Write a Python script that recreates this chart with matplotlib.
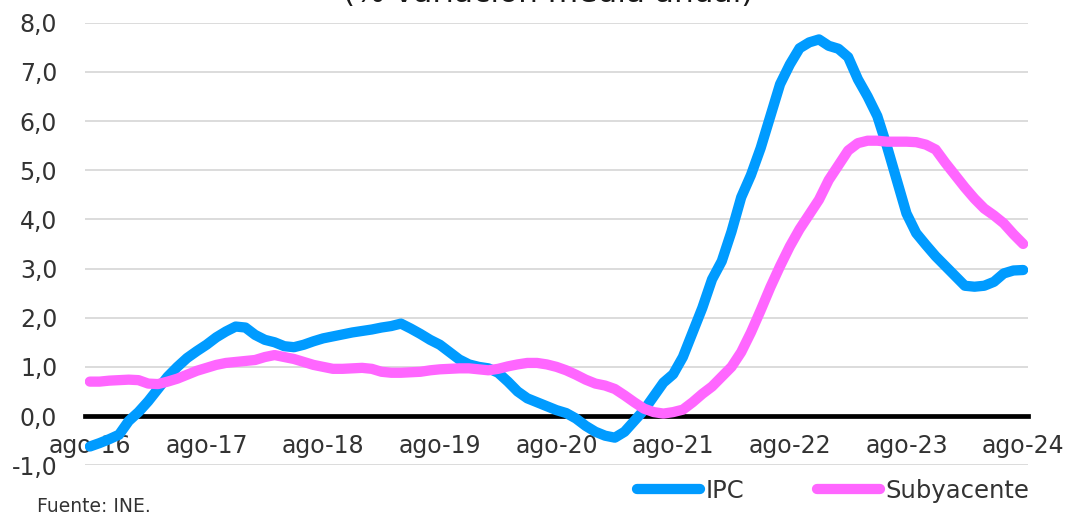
import matplotlib
matplotlib.use("Agg")
import matplotlib.pyplot as plt
import numpy as np

# Monthly data from ago-16 to ago-24 (97 months)
n_months = 97

ipc = [
    -0.62, -0.55, -0.47, -0.38, -0.10, 0.08, 0.30, 0.55, 0.80, 1.00,
    1.18, 1.32, 1.45, 1.60, 1.72, 1.82, 1.80, 1.65, 1.55, 1.50,
    1.42, 1.40, 1.45, 1.52, 1.58, 1.62, 1.66, 1.70, 1.73, 1.76,
    1.80, 1.83, 1.88, 1.78, 1.67, 1.55, 1.45, 1.30, 1.15, 1.05,
    1.00, 0.97, 0.88, 0.70, 0.50, 0.36, 0.28, 0.20, 0.12, 0.06,
    -0.05, -0.20, -0.32, -0.40, -0.44, -0.32, -0.10, 0.12, 0.40, 0.68,
    0.85, 1.20, 1.70, 2.20, 2.78, 3.15, 3.75, 4.45, 4.90, 5.45,
    6.10, 6.75, 7.15, 7.48, 7.60, 7.66, 7.53, 7.47, 7.30, 6.85,
    6.50, 6.10, 5.48, 4.80, 4.12, 3.72, 3.48, 3.25, 3.05, 2.85,
    2.65, 2.63, 2.65, 2.73, 2.90, 2.96, 2.97,
]

subyacente = [
    0.70, 0.70, 0.72, 0.73, 0.74, 0.73, 0.66, 0.65, 0.70, 0.76,
    0.84, 0.92, 0.98, 1.04, 1.08, 1.10, 1.12, 1.14, 1.20, 1.24,
    1.20, 1.16, 1.10, 1.04, 1.00, 0.96, 0.96, 0.97, 0.98, 0.96,
    0.90, 0.88, 0.88, 0.89, 0.90, 0.93, 0.95, 0.96, 0.97, 0.97,
    0.95, 0.93, 0.96, 1.01, 1.05, 1.08, 1.08, 1.05, 1.00, 0.93,
    0.84, 0.74, 0.66, 0.62, 0.55, 0.42, 0.28, 0.15, 0.08, 0.05,
    0.08, 0.13, 0.28, 0.45, 0.60, 0.80, 1.00, 1.30, 1.70, 2.15,
    2.62, 3.05, 3.45, 3.80, 4.10, 4.40, 4.80, 5.10, 5.40, 5.55,
    5.60, 5.60, 5.58, 5.58, 5.58, 5.57, 5.52, 5.42, 5.15, 4.90,
    4.65, 4.42, 4.22, 4.08, 3.92, 3.70, 3.50,
]

xtick_labels = ["ago-16", "ago-17", "ago-18", "ago-19", "ago-20",
                "ago-21", "ago-22", "ago-23", "ago-24"]
ytick_values = [-1, 0, 1, 2, 3, 4, 5, 6, 7, 8]

title = "(% variación media anual)"
source = "Fuente: INE."

BLUE = "#009BFF"
PINK = "#FF66FF"
TXT = "#333333"
FS = 17

fig = plt.figure(figsize=(10.70, 5.13), dpi=100)
ax = fig.add_axes([85 / 1070, 1 - 465.2 / 513, (1028 - 85) / 1070, (465.2 - 22.7) / 513])

x = np.arange(n_months)
ax.plot(x, ipc, color=BLUE, lw=7.4, solid_capstyle="round", solid_joinstyle="round",
        label="IPC", zorder=3)
ax.plot(x, subyacente, color=PINK, lw=7.4, solid_capstyle="round", solid_joinstyle="round",
        label="Subyacente", zorder=4)

for s in ["top", "right", "left"]:
    ax.spines[s].set_visible(False)
ax.spines["bottom"].set_position(("data", 0))
ax.spines["bottom"].set_color("black")
ax.spines["bottom"].set_linewidth(3.4)
ax.spines["bottom"].set_zorder(2)

ax.set_xlim(-0.5, n_months - 0.5)
ax.set_ylim(-1, 8)

ax.set_yticks(ytick_values)
ax.set_yticklabels([f"{v:.1f}".replace(".", ",") for v in ytick_values])
ax.yaxis.grid(True, color="#D9D9D9", lw=1.3)
ax.set_axisbelow(True)

ax.set_xticks(np.arange(0, n_months, 12))
ax.set_xticklabels(xtick_labels)

ax.tick_params(axis="x", length=0, pad=13, labelsize=FS, labelcolor=TXT)
ax.tick_params(axis="y", length=0, pad=20, labelsize=FS, labelcolor=TXT)

fig.text(548 / 1070, 1 - 2 / 513, title, ha="center", va="baseline",
         fontsize=22.5, color="#1a1a1a")
fig.text(37 / 1070, 1 - 512 / 513, source, ha="left", va="baseline",
         fontsize=13.5, color=TXT)

leg = ax.legend(loc="center", bbox_to_anchor=(833 / 1070, 1 - 491 / 513),
                bbox_transform=fig.transFigure, ncol=2, frameon=False,
                fontsize=17.5, handlelength=2.6, handletextpad=0.2,
                columnspacing=3.0, borderpad=0.0)
for t in leg.get_texts():
    t.set_color(TXT)

fig.savefig("out.png", dpi=100)
